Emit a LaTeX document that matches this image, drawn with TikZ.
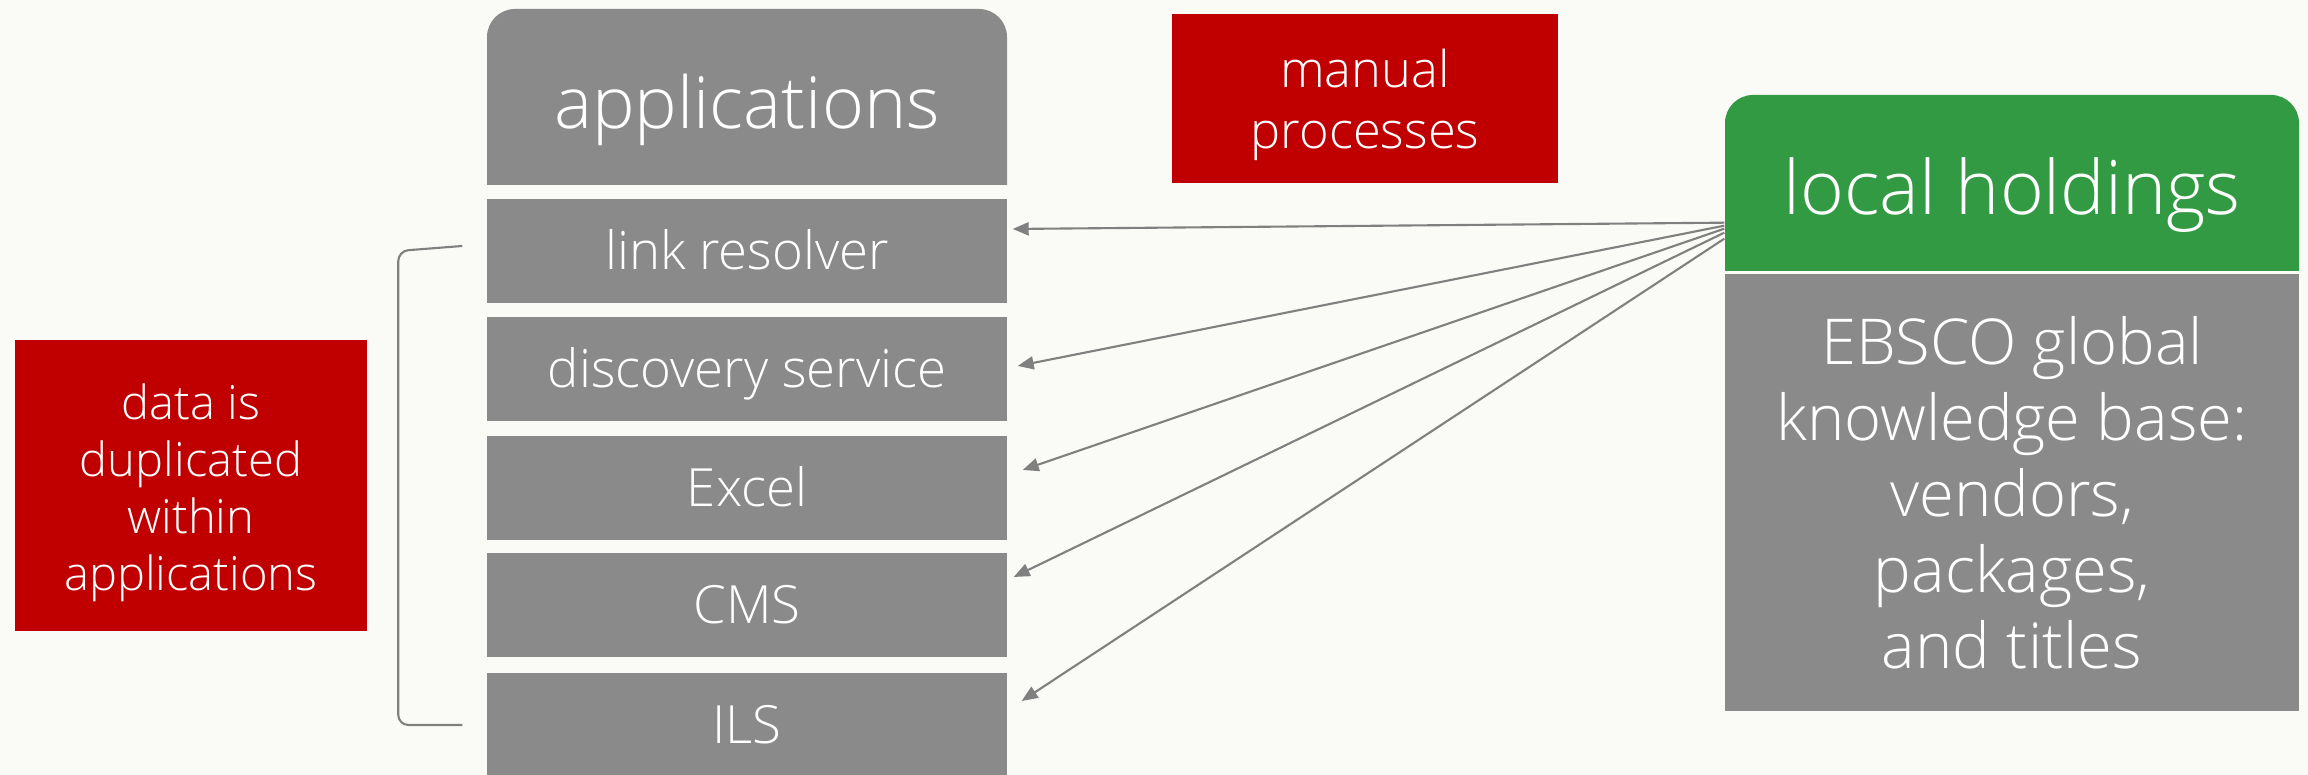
\documentclass[tikz,border=0pt]{standalone}
\usepackage{fontspec}
\IfFontExistsTF{Open Sans Light}{\setmainfont{Open Sans Light}}{\setmainfont{Open Sans}}
\usetikzlibrary{arrows.meta}
\definecolor{boxgray}{RGB}{138,138,138}
\definecolor{boxred}{RGB}{192,0,0}
\definecolor{boxgreen}{RGB}{51,154,68}
\definecolor{paper}{RGB}{250,250,246}
\definecolor{linegray}{RGB}{128,128,128}

\begin{document}
\begin{tikzpicture}[
    app/.style={fill=boxgray,text=white,minimum width=5.2cm,minimum height=1.04cm,
      inner sep=0pt,text height=0.46cm,text depth=0.08cm,font=\fontsize{15}{18}\selectfont},
    head/.style={text=white,minimum width=#1,minimum height=1.76cm,inner sep=0pt,
      text height=0.73cm,text depth=0.10cm},
    note/.style={fill=boxred,text=white,inner sep=0pt,align=center},
    feed/.style={draw=linegray,line width=0.6pt,-{Triangle[length=0.16cm,width=0.13cm]}}]
  \fill[paper] (0,0) rectangle (23.08,7.75);
  \useasboundingbox (0,0) rectangle (23.08,7.75);

  % rounded headers
  \fill[boxgray] (4.87,5.90) -- (4.87,7.38) arc[start angle=180,end angle=90,radius=0.28]
    -- (9.79,7.66) arc[start angle=90,end angle=0,radius=0.28] -- (10.07,5.90) -- cycle;
  \fill[boxgreen] (17.25,5.04) -- (17.25,6.52) arc[start angle=180,end angle=90,radius=0.28]
    -- (22.71,6.80) arc[start angle=90,end angle=0,radius=0.28] -- (22.99,5.04) -- cycle;

  \node[head=5.2cm,font=\fontsize{20.4}{24}\selectfont] (apps) at (7.47,6.78) {applications};
  \node[app] (link) at (7.47,5.24) {link resolver};
  \node[app] (disc) at (7.47,4.06) {discovery service};
  \node[app] (excel) at (7.47,2.87) {Excel};
  \node[app] (cms) at (7.47,1.70) {CMS};
  \node[app] (ils) at (7.47,0.50) {ILS};

  \node[note,minimum width=3.86cm,minimum height=1.69cm,
    font=\fontsize{14.4}{17.4}\selectfont] (manual) at (13.65,6.765)
    {\rule{0pt}{1.02em}manual\\processes};
  \node[note,minimum width=3.52cm,minimum height=2.91cm,
    font=\fontsize{13.4}{16.2}\selectfont] (dup) at (1.91,2.895)
    {\rule{0pt}{1.06em}data is\\duplicated\\within\\applications};

  \node[head=5.74cm,font=\fontsize{21.3}{25}\selectfont] (local) at (20.12,5.92) {local holdings};
  \node[fill=boxgray,text=white,minimum width=5.74cm,minimum height=4.37cm,align=center,
    font=\fontsize{18}{21.6}\selectfont] (kb) at (20.12,2.825)
    {EBSCO global\\knowledge base:\\vendors,\\packages,\\and titles};

  % bracket
  \draw[linegray,line width=0.6pt,rounded corners=0.1cm]
    ([xshift=-0.24cm,yshift=0.05cm]link.west) -- ++(-0.64,-0.05) |- ([xshift=-0.24cm]ils.west);

  \draw[feed] ([yshift=0.49cm]local.south west) -- ([xshift=0.05cm,yshift=0.22cm]link.east);
  \draw[feed] ([yshift=0.46cm]local.south west) -- ([xshift=0.10cm,yshift=0.03cm]disc.east);
  \draw[feed] ([yshift=0.43cm]local.south west) -- ([xshift=0.15cm,yshift=0.18cm]excel.east);
  \draw[feed] ([yshift=0.39cm]local.south west) -- ([xshift=0.06cm,yshift=0.28cm]cms.east);
  \draw[feed] ([yshift=0.33cm]local.south west) -- ([xshift=0.14cm,yshift=0.24cm]ils.east);
\end{tikzpicture}
\end{document}
